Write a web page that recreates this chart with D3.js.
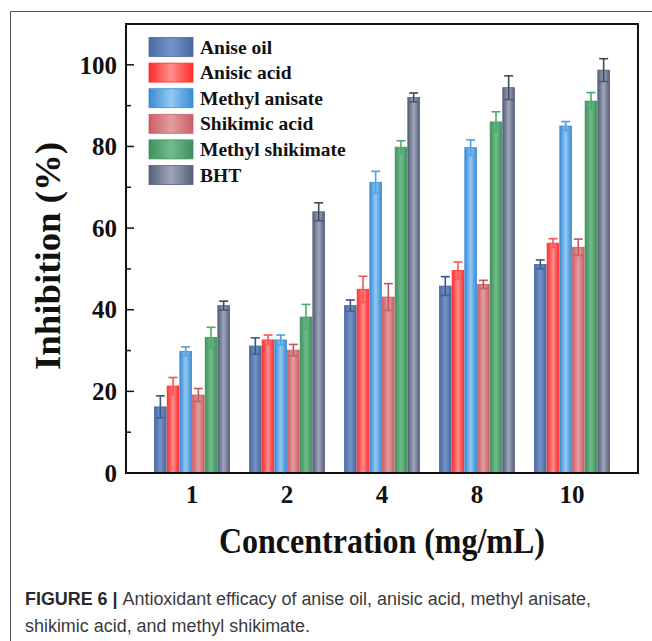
<!DOCTYPE html>
<html><head><meta charset="utf-8">
<script src="https://cdn.jsdelivr.net/npm/d3@7"></script>
<style>html,body{margin:0;padding:0;background:#fff;}svg{display:block;}</style>
</head><body>
<svg id="chart" width="652" height="641"></svg>
<script>
const concentrations = ["1", "2", "4", "8", "10"];
const seriesNames = ["Anise oil", "Anisic acid", "Methyl anisate", "Shikimic acid", "Methyl shikimate", "BHT"];
const aniseOil        = [16.2, 31.1, 41.0, 45.8, 51.1];
const anisicAcid      = [21.3, 32.6, 45.0, 49.6, 56.3];
const methylAnisate   = [29.8, 32.6, 71.2, 79.7, 85.0];
const shikimicAcid    = [19.1, 30.1, 43.1, 46.2, 55.3];
const methylShikimate = [33.2, 38.2, 79.8, 86.0, 91.1];
const bht             = [41.0, 64.0, 92.0, 94.4, 98.7];
const aniseOilErr        = [2.7, 2.0, 1.4, 2.3, 1.1];
const anisicAcidErr      = [2.1, 1.2, 3.2, 2.1, 1.1];
const methylAnisateErr   = [1.1, 1.2, 2.7, 1.9, 1.1];
const shikimicAcidErr    = [1.6, 1.4, 3.3, 1.0, 2.0];
const methylShikimateErr = [2.5, 3.1, 1.6, 2.5, 2.1];
const bhtErr             = [1.1, 2.2, 1.1, 2.9, 2.8];
const yTicks = [0, 20, 40, 60, 80, 100];

const values = [aniseOil, anisicAcid, methylAnisate, shikimicAcid, methylShikimate, bht];
const errors = [aniseOilErr, anisicAcidErr, methylAnisateErr, shikimicAcidErr, methylShikimateErr, bhtErr];

// edge colour, centre colour, error bar colour
const styles = [
  {edge:"#4a6aa3", mid:"#7393c8", err:"#3b5585"},
  {edge:"#ff2b2b", mid:"#ff8f8f", err:"#ff5050"},
  {edge:"#3b8cd6", mid:"#92c8f0", err:"#4d9fe0"},
  {edge:"#cc5f66", mid:"#e29da0", err:"#c2545b"},
  {edge:"#3f8f5e", mid:"#72bd8c", err:"#4caa6c"},
  {edge:"#56607a", mid:"#9ea6ba", err:"#3e485c"}
];

const svg = d3.select("#chart");
const serif = "'Liberation Serif','Times New Roman',serif";
const L = 126, R = 638, T = 24, B = 473;

// gradients
const defs = svg.append("defs");
styles.forEach((s, i) => {
  const g = defs.append("linearGradient").attr("id", "g" + i)
    .attr("x1", "0%").attr("x2", "100%").attr("y1", "0%").attr("y2", "0%");
  g.append("stop").attr("offset", "0%").attr("stop-color", s.edge);
  g.append("stop").attr("offset", "50%").attr("stop-color", s.mid);
  g.append("stop").attr("offset", "100%").attr("stop-color", s.edge);
});

// page frame
svg.append("line").attr("x1", 10.5).attr("x2", 652).attr("y1", 11.5).attr("y2", 11.5)
  .attr("stroke", "#555").attr("stroke-width", 1);
svg.append("line").attr("x1", 10.5).attr("x2", 10.5).attr("y1", 11.5).attr("y2", 641)
  .attr("stroke", "#555").attr("stroke-width", 1);

const y = d3.scaleLinear().domain([0, 110]).range([B, T]);
const x0 = d3.scalePoint().domain(concentrations).range([L, R]).padding(0.695);
const x1 = d3.scaleBand().domain(seriesNames).range([-38, 38]).padding(0);

// bars
const table = [];
concentrations.forEach((c, ci) => {
  seriesNames.forEach((s, si) => {
    table.push({c, s, si, v: values[si][ci], e: errors[si][ci]});
  });
});

const bars = svg.append("g");
bars.selectAll("rect").data(table).enter().append("rect")
  .attr("x", d => x0(d.c) + x1(d.s) + 0.5)
  .attr("width", x1.bandwidth() - 1)
  .attr("y", d => y(d.v))
  .attr("height", d => B - y(d.v))
  .attr("fill", d => "url(#g" + d.si + ")")
  .attr("stroke", d => styles[d.si].edge)
  .attr("stroke-width", 0.8);

// error bars
const eb = svg.append("g");
const cap = 4.5;
table.forEach(d => {
  const cx = x0(d.c) + x1(d.s) + x1.bandwidth() / 2;
  const col = styles[d.si].err;
  const g = eb.append("g").attr("stroke", col).attr("stroke-width", 1.6);
  g.append("line").attr("x1", cx).attr("x2", cx).attr("y1", y(d.v + d.e)).attr("y2", y(d.v - d.e));
  g.append("line").attr("x1", cx - cap).attr("x2", cx + cap).attr("y1", y(d.v + d.e)).attr("y2", y(d.v + d.e));
  g.append("line").attr("x1", cx - cap).attr("x2", cx + cap).attr("y1", y(d.v - d.e)).attr("y2", y(d.v - d.e)).attr("stroke-opacity", 0.7);
});

// axes box
svg.append("rect").attr("x", L).attr("y", T).attr("width", R - L).attr("height", B - T)
  .attr("fill", "none").attr("stroke", "#111").attr("stroke-width", 2);

// y ticks (inward)
const yAxis = svg.append("g");
d3.range(0, 111, 10).forEach(v => {
  const major = v % 20 === 0;
  yAxis.append("line").attr("x1", L).attr("x2", L + (major ? 8 : 5))
    .attr("y1", y(v)).attr("y2", y(v)).attr("stroke", "#111").attr("stroke-width", 1.5);
});
yAxis.selectAll("text").data(yTicks).enter().append("text")
  .attr("x", L - 9).attr("y", d => y(d)).attr("dy", "0.35em")
  .attr("text-anchor", "end").attr("font-family", serif).attr("font-weight", "bold")
  .attr("font-size", 25).attr("fill", "#111").text(d => d);

// x labels
svg.append("g").selectAll("text").data(concentrations).enter().append("text")
  .attr("x", d => x0(d)).attr("y", 503).attr("text-anchor", "middle")
  .attr("font-family", serif).attr("font-weight", "bold").attr("font-size", 25)
  .attr("fill", "#111").text(d => d);

// axis titles
svg.append("text").attr("x", 382).attr("y", 553).attr("text-anchor", "middle")
  .attr("font-family", serif).attr("font-weight", "bold").attr("font-size", 36)
  .attr("textLength", 326).attr("lengthAdjust", "spacingAndGlyphs")
  .attr("fill", "#111").text("Concentration (mg/mL)");
svg.append("text").attr("transform", "translate(60,256) rotate(-90)").attr("text-anchor", "middle")
  .attr("font-family", serif).attr("font-weight", "bold").attr("font-size", 36)
  .attr("textLength", 228).attr("lengthAdjust", "spacingAndGlyphs")
  .attr("fill", "#111").text("Inhibition (%)");

// legend
const leg = svg.append("g");
seriesNames.forEach((s, i) => {
  const cy = 47 + i * 25.6;
  leg.append("rect").attr("x", 149).attr("y", cy - 9.5).attr("width", 44).attr("height", 19)
    .attr("fill", "url(#g" + i + ")").attr("stroke", styles[i].edge).attr("stroke-width", 0.8);
  leg.append("text").attr("x", 200).attr("y", cy + 6.5)
    .attr("font-family", serif).attr("font-weight", "bold").attr("font-size", 19.5)
    .attr("fill", "#111").text(s);
});

// caption
const sans = "'Liberation Sans Narrow','Liberation Sans',Arial,sans-serif";
const cap1 = svg.append("text").attr("x", 25).attr("y", 605).attr("font-family", sans)
  .attr("font-size", 18).attr("fill", "#3a3a3a")
  .attr("textLength", 566).attr("lengthAdjust", "spacingAndGlyphs");
cap1.append("tspan").attr("font-weight", "bold").attr("fill", "#2a2a2a").text("FIGURE 6 | ");
cap1.append("tspan").text("Antioxidant efficacy of anise oil, anisic acid, methyl anisate,");
svg.append("text").attr("x", 25).attr("y", 632).attr("font-family", sans)
  .attr("font-size", 18).attr("fill", "#3a3a3a")
  .attr("textLength", 285).attr("lengthAdjust", "spacingAndGlyphs")
  .text("shikimic acid, and methyl shikimate.");
</script>
</body></html>
